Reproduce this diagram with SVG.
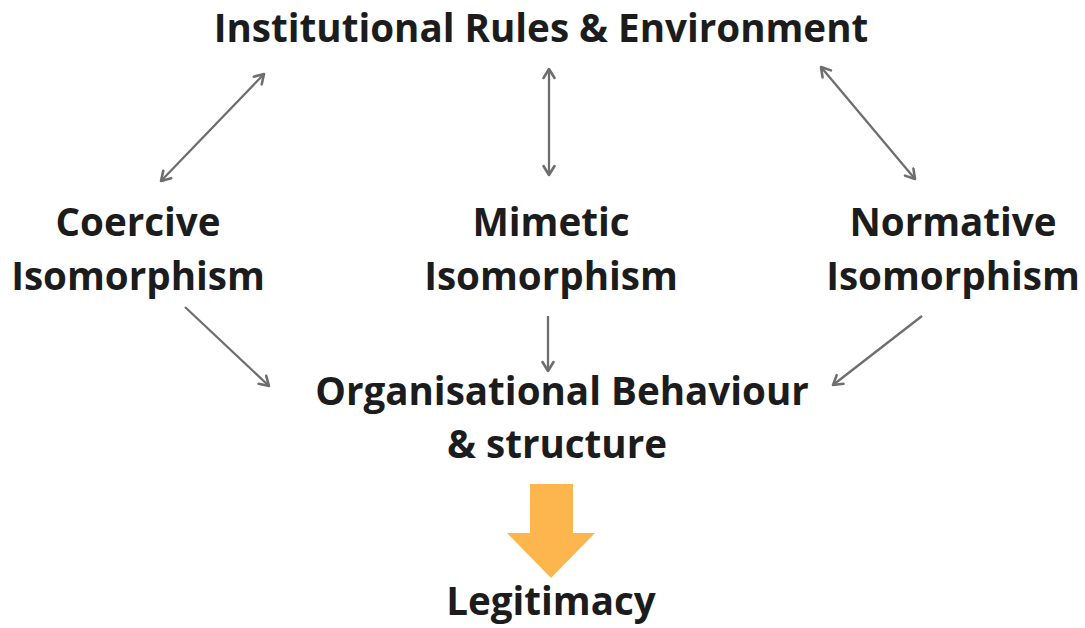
<svg xmlns="http://www.w3.org/2000/svg" width="1085" height="628" viewBox="0 0 1085 628">
  <defs>
    <style>
      .lbl { font-family: "Open Sans", "Noto Sans", "Liberation Sans", sans-serif; font-weight: 700; font-size: 38.6px; fill: #1c1c1c; text-anchor: middle; }
      .conn { stroke: #6e6e6e; stroke-width: 2.3; fill: none; marker-start: url(#head); marker-end: url(#head); }
      .one { stroke: #6e6e6e; stroke-width: 2.3; fill: none; marker-end: url(#head); }
    </style>
    <marker id="head" viewBox="0 0 14 14" refX="11.5" refY="7" markerWidth="14" markerHeight="14" markerUnits="userSpaceOnUse" orient="auto-start-reverse">
      <path d="M2.5,1.5 L11.5,7 L2.5,12.5" fill="none" stroke="#6e6e6e" stroke-width="2.6" stroke-linecap="round" stroke-linejoin="round"/>
    </marker>
  </defs>
  <rect width="1085" height="628" fill="#ffffff"/>

  <g id="institutional">
    <text class="lbl" x="541" y="42">Institutional Rules &amp; Environment</text>
  </g>
  <g id="coercive">
    <text class="lbl" x="138" y="236">Coercive</text>
    <text class="lbl" x="138" y="290">Isomorphism</text>
  </g>
  <g id="mimetic">
    <text class="lbl" x="551" y="236">Mimetic</text>
    <text class="lbl" x="551" y="290">Isomorphism</text>
  </g>
  <g id="normative">
    <text class="lbl" x="953" y="236">Normative</text>
    <text class="lbl" x="953" y="290">Isomorphism</text>
  </g>
  <g id="behaviour">
    <text class="lbl" x="562" y="405">Organisational Behaviour</text>
    <text class="lbl" x="557" y="458">&amp; structure</text>
  </g>
  <g id="legitimacy">
    <text class="lbl" x="551" y="615">Legitimacy</text>
  </g>

  <g id="connectors">
    <line class="conn" x1="161" y1="181" x2="264" y2="74"/>
    <line class="conn" x1="549" y1="69" x2="549" y2="175"/>
    <line class="conn" x1="821" y1="67" x2="915" y2="179"/>
    <line class="one" x1="185" y1="307" x2="269" y2="386"/>
    <line class="one" x1="548" y1="316" x2="548" y2="371"/>
    <line class="one" x1="922" y1="316" x2="833" y2="385"/>
    <path d="M530,484 H573 V533 H595 L551,578 L507,533 H530 Z" fill="#fdb54e"/>
  </g>
</svg>
